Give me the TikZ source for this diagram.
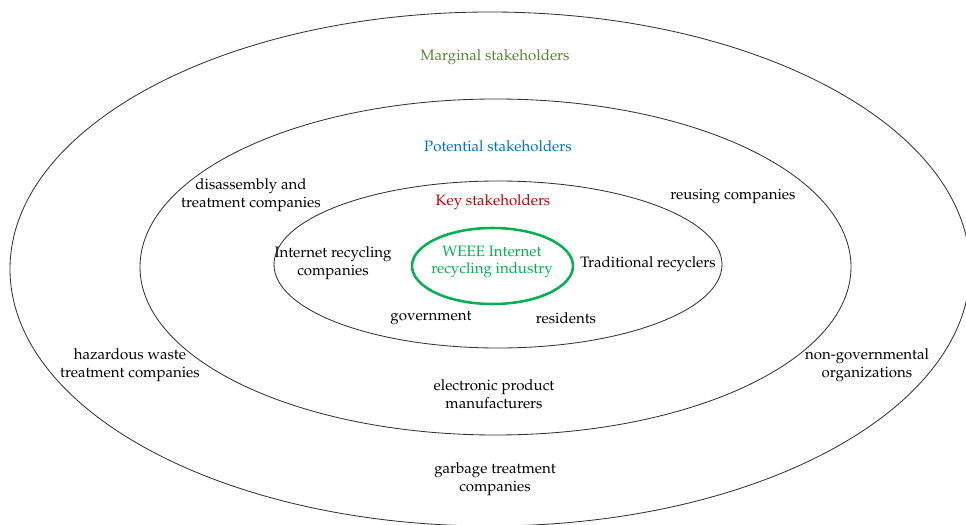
\documentclass[tikz,border=0pt]{standalone}
\usepackage[T1]{fontenc}
\usepackage{mathpazo}
\usepackage{tikz}

\definecolor{margin}{RGB}{84,130,53}
\definecolor{potent}{RGB}{0,112,192}
\definecolor{keyred}{RGB}{192,0,0}
\definecolor{weee}{RGB}{0,176,80}

\tikzset{
  ring/.style={draw=black!80,line width=0.6pt},
  lbl/.style={align=center,inner sep=1pt,font=\fontsize{10.7}{12.4}\selectfont}
}

\begin{document}
\begin{tikzpicture}[x=0.025cm,y=-0.025cm]
        \useasboundingbox (0,0) rectangle (966,525);
        \clip (0,0) rectangle (966,525);

        % rings
        \draw[ring] (490,269) ellipse [x radius=480,y radius=257];
        \draw[ring] (495.5,267) ellipse [x radius=355.5,y radius=168];
        \draw[ring] (498,264.5) ellipse [x radius=224,y radius=83.5];
        \draw[weee,line width=1.8pt] (492.5,266) ellipse [x radius=80.5,y radius=38];

        % headings
        \node[lbl,text=margin] (marg) at (495,57)  {Marginal stakeholders};
        \node[lbl,text=potent] (pot)  at (498,146) {Potential stakeholders};
        \node[lbl,text=keyred] (key)  at (493,202) {Key stakeholders};
        \node[lbl,text=weee]   (core) at (492,262) {WEEE Internet\\recycling industry};

        % key
        \node[lbl] (irc)  at (333,263) {Internet recycling\\companies};
        \node[lbl] (trad) at (648,264) {Traditional recyclers};
        \node[lbl] (gov)  at (431,318) {government};
        \node[lbl] (res)  at (566,318) {residents};

        % potential
        \node[lbl] (dis)  at (251,195) {disassembly and\\treatment companies};
        \node[lbl] (reu)  at (733,196) {reusing companies};
        \node[lbl] (elec) at (494,394) {electronic product\\manufacturers};

        % marginal
        \node[lbl] (haz)  at (130,365) {hazardous waste\\treatment companies};
        \node[lbl] (ngo)  at (867,365) {non-governmental\\organizations};
        \node[lbl] (garb) at (495,479) {garbage treatment\\companies};
\end{tikzpicture}
\end{document}
